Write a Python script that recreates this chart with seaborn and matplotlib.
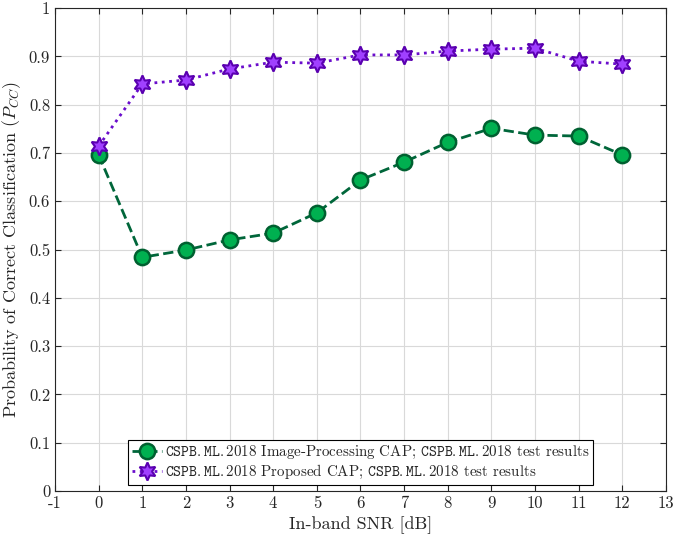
import matplotlib
matplotlib.use("Agg")
import matplotlib.pyplot as plt
import seaborn as sns

# --- data ---
snr_db = [0, 1, 2, 3, 4, 5, 6, 7, 8, 9, 10, 11, 12]
pcc_image_proc = [0.696, 0.484, 0.499, 0.520, 0.534, 0.576, 0.644, 0.681, 0.722, 0.751, 0.737, 0.735, 0.696]
pcc_proposed = [0.714, 0.843, 0.851, 0.874, 0.888, 0.886, 0.903, 0.903, 0.911, 0.915, 0.917, 0.890, 0.884]
x_ticks = list(range(-1, 14))
y_ticks = [0, 0.1, 0.2, 0.3, 0.4, 0.5, 0.6, 0.7, 0.8, 0.9, 1]

ds = r"$\mathtt{CSPB{.}ML{.}2018}$"
label_ip = ds + " Image-Processing CAP; " + ds + " test results"
label_prop = ds + " Proposed CAP; " + ds + " test results"

sns.set_style("ticks")
plt.rcParams["font.family"] = "serif"
plt.rcParams["font.serif"] = ["cmr10", "DejaVu Serif"]
plt.rcParams["mathtext.fontset"] = "cm"
plt.rcParams["axes.formatter.use_mathtext"] = True

fig = plt.figure(figsize=(6.74, 5.39), dpi=100)
ax = fig.add_axes([0.0816, 0.089, 0.9064, 0.896])

sns.lineplot(x=snr_db, y=pcc_image_proc, ax=ax, color="#00663a", linestyle="--",
             linewidth=2, marker="o", markersize=11, markerfacecolor="#00b050",
             markeredgecolor="#006030", markeredgewidth=1.8, label=label_ip,
             dashes=(4, 2.5))
sns.lineplot(x=snr_db, y=pcc_proposed, ax=ax, color="#6a0dcc", linestyle=":",
             linewidth=2, marker=(6, 1, 0), markersize=13, markerfacecolor="#a040ff",
             markeredgecolor="#5a00b0", markeredgewidth=1.5, label=label_prop)

ax.set_xlim(-1, 13)
ax.set_ylim(0, 1)
ax.set_xticks(x_ticks)
ax.set_xticklabels([str(t) for t in x_ticks])
ax.set_yticks(y_ticks)
ax.set_yticklabels(["0", "0.1", "0.2", "0.3", "0.4", "0.5", "0.6", "0.7", "0.8", "0.9", "1"])
ax.grid(True, color="#d9d9d9", linewidth=0.8)
ax.set_axisbelow(True)
ax.tick_params(direction="in", top=True, right=True, labelsize=12, length=4)
for s in ax.spines.values():
    s.set_visible(True)
    s.set_color("#262626")
    s.set_linewidth(0.8)

ax.set_xlabel("In-band SNR [dB]", fontsize=13)
ax.set_ylabel(r"Probability of Correct Classification ($P_{CC}$)", fontsize=13)

leg = ax.legend(loc="lower center", bbox_to_anchor=(0.5, 0.0), fontsize=10.8,
                frameon=True, fancybox=False, framealpha=1, edgecolor="black",
                handlelength=2.0, handletextpad=0.2, borderpad=0.25, labelspacing=0.15,
                borderaxespad=0.4)
leg.get_frame().set_linewidth(0.8)

fig.savefig("out.png", dpi=100)
